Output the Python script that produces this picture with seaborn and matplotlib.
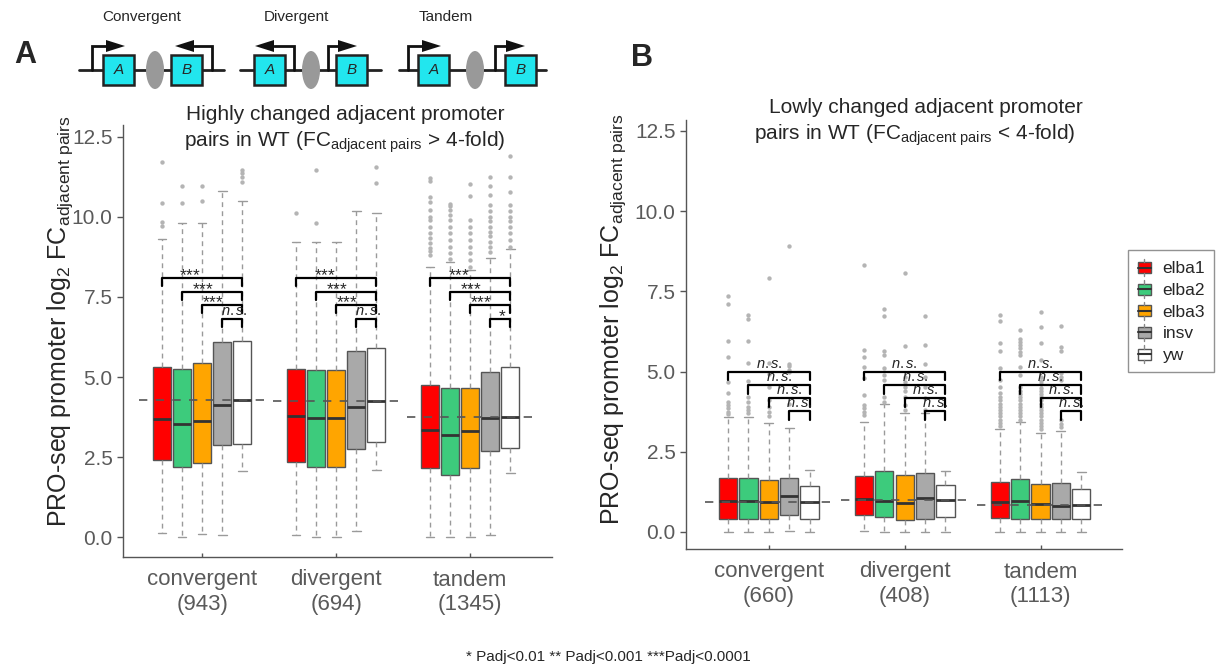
""" PRO-seq promoter fold change box plots, panels A and B. """
import numpy as np
import pandas as pd
import seaborn as sns
import matplotlib.pyplot as plt
from matplotlib.patches import Rectangle, Ellipse, Polygon, Patch
from matplotlib.lines import Line2D
from matplotlib.legend_handler import HandlerBase

sns.set_theme(style="ticks")
plt.rcParams['font.family'] = ['Liberation Sans', 'DejaVu Sans']
plt.rcParams['mathtext.fontset'] = 'custom'
plt.rcParams['mathtext.rm'] = 'Liberation Sans'
plt.rcParams['mathtext.it'] = 'Liberation Sans:italic'

groups = ["convergent", "divergent", "tandem"]
genotypes = ["elba1", "elba2", "elba3", "insv", "yw"]
colors = ["#ff0000", "#3dcb7c", "#ffa500", "#a9a9a9", "#ffffff"]

# panel A: highly changed pairs (rows = groups, columns = genotypes)
A_counts = [943, 694, 1345]
A_med = [[3.68, 3.53, 3.63, 4.13, 4.28], [3.78, 3.73, 3.73, 4.07, 4.26], [3.34, 3.19, 3.30, 3.73, 3.76]]
A_q1 = [[2.41, 2.18, 2.30, 2.87, 2.92], [2.35, 2.20, 2.20, 2.75, 2.98], [2.15, 1.94, 2.17, 2.68, 2.77]]
A_q3 = [[5.30, 5.24, 5.43, 6.10, 6.12], [5.24, 5.22, 5.22, 5.81, 5.91], [4.75, 4.67, 4.67, 5.15, 5.32]]
A_lo = [[0.13, 0.01, 0.11, 0.06, 2.06], [0.06, 0.01, 0.01, 0.20, 2.09], [0.01, 0.01, 0.01, 0.06, 1.99]]
A_hi = [[9.31, 9.80, 9.80, 10.82, 10.50], [9.23, 9.23, 9.23, 10.20, 10.13], [8.44, 8.59, 8.34, 8.72, 9.01]]
A_out = [
    [[9.72, 9.83, 10.43, 11.70], [10.43, 10.97], [10.50, 10.97], [], [11.10, 11.26, 11.36, 11.47]],
    [[10.13], [9.82, 11.45], [], [], [11.05, 11.57]],
    [[8.81, 8.92, 9.03, 9.18, 9.34, 9.49, 9.70, 9.91, 10.01, 10.22, 10.48, 10.63, 11.11, 11.21],
     [8.70, 8.86, 9.07, 9.28, 9.49, 9.70, 9.91, 10.06, 10.22, 10.33, 10.41],
     [8.44, 8.65, 8.86, 9.07, 9.28, 9.49, 9.70, 9.91, 10.66, 11.02],
     [8.91, 9.07, 9.23, 9.39, 9.54, 9.70, 9.86, 10.01, 10.17, 10.38, 10.69, 10.98, 11.26],
     [9.07, 9.28, 9.49, 9.70, 9.86, 10.01, 10.17, 10.38, 10.79, 11.26, 11.90]],
]
A_sig = [["***", "***", "***", "n.s."], ["***", "***", "***", "n.s."], ["***", "***", "***", "*"]]

# panel B: lowly changed pairs
B_counts = [660, 408, 1113]
B_med = [[0.975, 0.975, 0.935, 1.12, 0.92], [1.02, 0.975, 0.89, 1.07, 0.99], [0.935, 0.965, 0.86, 0.82, 0.85]]
B_q1 = [[0.40, 0.42, 0.42, 0.53, 0.42], [0.53, 0.46, 0.38, 0.40, 0.48], [0.425, 0.42, 0.40, 0.39, 0.39]]
B_q3 = [[1.67, 1.68, 1.63, 1.69, 1.44], [1.74, 1.89, 1.77, 1.83, 1.46], [1.56, 1.64, 1.51, 1.52, 1.34]]
B_lo = [[0.0, 0.0, 0.0, 0.04, 0.0], [0.04, 0.0, 0.0, 0.0, 0.0], [0.0, 0.0, 0.0, 0.0, 0.0]]
B_hi = [[3.57, 3.57, 3.41, 3.25, 1.93], [3.44, 3.99, 3.70, 3.70, 1.91], [3.22, 3.44, 3.10, 3.16, 1.87]]
B_out = [
    [[3.68, 3.75, 3.85, 3.95, 4.05, 4.32, 4.68, 5.45, 5.94, 7.11, 7.36],
     [3.70, 3.80, 3.90, 4.06, 4.20, 4.72, 5.27, 5.94, 6.63, 6.75],
     [3.60, 3.75, 3.90, 4.10, 4.53, 4.91, 5.28, 7.93],
     [4.00, 4.99, 5.06, 5.16, 5.24, 8.91], []],
    [[3.65, 3.75, 3.85, 3.95, 4.27, 4.79, 5.15, 5.46, 5.67, 8.32],
     [4.06, 4.22, 4.73, 4.89, 5.12, 5.53, 5.64, 6.74, 6.95],
     [3.80, 3.95, 4.20, 4.38, 4.53, 4.69, 4.84, 5.79, 8.08],
     [3.80, 4.17, 4.53, 4.84, 5.23, 5.83, 6.73], []],
    [[3.30, 3.40, 3.50, 3.60, 3.70, 3.80, 3.90, 4.00, 4.10, 4.20, 4.32, 4.53, 4.73, 5.10, 5.64, 5.88, 6.57, 6.76],
     [3.50, 3.60, 3.70, 3.80, 3.90, 4.00, 4.10, 4.20, 4.30, 4.40, 4.53, 4.89, 5.15, 5.51, 5.61, 5.72, 5.82, 5.93, 6.03, 6.31],
     [3.20, 3.30, 3.40, 3.50, 3.60, 3.70, 3.80, 3.90, 4.00, 4.10, 4.20, 4.30, 4.40, 4.50, 4.60, 4.70, 4.84, 5.36, 5.90, 6.40, 6.86],
     [3.28, 3.38, 3.48, 4.73, 4.84, 4.94, 5.65, 5.75, 6.41], []],
]
B_sig = [["n.s."] * 4, ["n.s."] * 4, ["n.s."] * 4]

offsets = np.array([-0.3, -0.15, 0.0, 0.15, 0.3])
GRAY_TXT = "#5a5a5a"


def sig_math(lab):
    # tight mathtext boxes so stacked labels don't collide; braces stop operator spacing
    if lab == "n.s.":
        return r"$\mathit{n.s.}$"
    return "$" + "".join("{*}" for _ in lab) + "$"


def boxpanel(ax, med, q1, q3, lo, hi, out, counts, sig, sig_y, sig_x):
    for g in range(len(groups)):
        stats = [dict(med=med[g][k], q1=q1[g][k], q3=q3[g][k], whislo=lo[g][k],
                      whishi=hi[g][k], fliers=[]) for k in range(len(genotypes))]
        bp = ax.bxp(stats, positions=g + offsets, widths=0.135, patch_artist=True,
                    showfliers=False, manage_ticks=False, capwidths=0.065,
                    boxprops=dict(edgecolor="#555555", linewidth=1.0),
                    whiskerprops=dict(color="#9a9a9a", linestyle=(0, (3.5, 3)), linewidth=1.0),
                    capprops=dict(color="#9a9a9a", linewidth=1.0),
                    medianprops=dict(color="#333333", linewidth=2.0))
        for patch, c in zip(bp["boxes"], colors):
            patch.set_facecolor(c)
        # dashed line at the yw (control) median
        ax.plot([g - 0.47, g + 0.47], [med[g][4], med[g][4]], color="#555555",
                lw=1.2, ls=(0, (5, 5)), zorder=4)
        # significance brackets, each genotype against yw
        for i in range(4):
            x1, x2, y = g + offsets[i], g + offsets[4], sig_y[i]
            ax.plot([x1, x1, x2, x2], [y - 0.27, y, y, y - 0.27], color="black", lw=1.6, zorder=5)
            lab = sig[g][i]
            tx = g - 0.3 + 0.15 * sig_x[i]
            if lab == "n.s.":
                ax.text(tx, y + 0.03, sig_math(lab), ha="center", va="bottom", fontsize=10.5,
                        color="#222222", zorder=6)
            else:
                ax.text(tx, y - 0.14, sig_math(lab), ha="center", va="bottom", fontsize=12.5, zorder=6)

    rows = [(g + offsets[k], v) for g in range(len(groups))
            for k in range(len(genotypes)) for v in out[g][k]]
    fl = pd.DataFrame(rows, columns=["pos", "value"])
    sns.scatterplot(data=fl, x="pos", y="value", color="#b4b4b4", s=10, linewidth=0,
                    ax=ax, legend=False, zorder=2)

    ax.set_xticks(range(len(groups)))
    ax.set_xticklabels([f"{n}\n({c})" for n, c in zip(groups, counts)])
    ax.set_yticks([0, 2.5, 5, 7.5, 10, 12.5])
    ax.set_yticklabels(["0.0", "2.5", "5.0", "7.5", "10.0", "12.5"])
    ax.set_xlabel("")
    ax.set_ylabel(r"PRO-seq promoter log$_2$ FC$_{\mathrm{adjacent\ pairs}}$", fontsize=18)
    ax.tick_params(axis="y", labelsize=15, labelcolor=GRAY_TXT, color="#555555", length=4, width=1)
    ax.tick_params(axis="x", labelsize=16, labelcolor=GRAY_TXT, color="#555555", length=3,
                   width=1, direction="in", pad=9)
    sns.despine(ax=ax)
    for s in ["left", "bottom"]:
        ax.spines[s].set_color("#555555")
        ax.spines[s].set_linewidth(1.0)


class BoxHandler(HandlerBase):
    def create_artists(self, legend, orig_handle, xdescent, ydescent, width, height, fontsize, trans):
        cx = width / 2 - xdescent
        bw = width * 0.85
        y0 = -ydescent
        bh = height * 0.62
        by = y0 + (height - bh) / 2
        rect = Rectangle((cx - bw / 2, by), bw, bh, facecolor=orig_handle.get_facecolor(),
                         edgecolor="#555555", lw=1, transform=trans)
        mid = Line2D([cx - bw / 2, cx + bw / 2], [by + bh / 2] * 2, color="#333333", lw=1.5, transform=trans)
        top = Line2D([cx, cx], [by + bh, y0 + height], color="#888888", lw=1, transform=trans)
        bot = Line2D([cx, cx], [y0, by], color="#888888", lw=1, transform=trans)
        return [rect, mid, top, bot]


fig = plt.figure(figsize=(12.16, 6.70), dpi=100)
W, H = 1216, 670

axA = fig.add_axes([123 / W, 1 - 557 / H, 429 / W, 432 / H])
boxpanel(axA, A_med, A_q1, A_q3, A_lo, A_hi, A_out, A_counts, A_sig,
         [8.1, 7.67, 7.26, 6.82], [1.42, 2.02, 2.55, 3.58])
axA.set_xlim(-0.59, 2.61)
axA.set_ylim(-0.62, 12.87)
axA.yaxis.set_label_coords(-0.112, 0.545)

axB = fig.add_axes([686 / W, 1 - 549 / H, 436 / W, 429 / H])
boxpanel(axB, B_med, B_q1, B_q3, B_lo, B_hi, B_out, B_counts, B_sig,
         [5.0, 4.58, 4.17, 3.76], [2, 2.5, 3, 3.5])
axB.set_xlim(-0.61, 2.6)
axB.set_ylim(-0.53, 12.84)
axB.yaxis.set_label_coords(-0.132, 0.535)

# titles
fig.text(345 / W, 1 - 120 / H, "Highly changed adjacent promoter", ha="center", va="baseline", fontsize=15)
fig.text(345 / W, 1 - 147 / H, r"pairs in WT (FC$_{\mathrm{adjacent\ pairs}}$ > 4-fold)",
         ha="center", va="baseline", fontsize=15)
fig.text(926 / W, 1 - 113 / H, "Lowly changed adjacent promoter", ha="center", va="baseline", fontsize=15)
fig.text(915 / W, 1 - 140 / H, r"pairs in WT (FC$_{\mathrm{adjacent\ pairs}}$ < 4-fold)",
         ha="center", va="baseline", fontsize=15)
fig.text(25 / W, 1 - 55 / H, "A", ha="center", va="center", fontsize=22, fontweight="bold")
fig.text(642 / W, 1 - 58 / H, "B", ha="center", va="center", fontsize=22, fontweight="bold")
fig.text(0.5, 1 - 657 / H, "* Padj<0.01 ** Padj<0.001 ***Padj<0.0001", ha="center", va="center", fontsize=11)

# legend
handles = [Patch(facecolor=c, edgecolor="#555555") for c in colors]
leg = fig.legend(handles, genotypes, loc="upper left", bbox_to_anchor=(1128 / W, 1 - 250 / H),
                 handler_map={Patch: BoxHandler()}, frameon=True, fancybox=False,
                 edgecolor="#777777", fontsize=12.5, handlelength=0.9, handleheight=1.2,
                 labelspacing=0.22, handletextpad=0.6, borderpad=0.5, borderaxespad=0)
leg.get_frame().set_linewidth(1.0)

# promoter-pair schematics across the top
top = fig.add_axes([0, 0, 1, 1], facecolor="none")
top.set_xlim(0, W)
top.set_ylim(H, 0)
top.axis("off")
LINE_Y, ARROW_Y = 70, 46
schemes = [
    ("Convergent", 142, (79, 224), [103, 171], 155, [(92, 125), (212, 175)]),
    ("Divergent", 296, (240, 381), [254, 336], 311, [(294, 255), (328, 357)]),
    ("Tandem", 446, (399, 546), [418, 505], 475, [(408, 441), (495, 525)]),
]
for name, tx, (l0, l1), bxs, ex, arrows in schemes:
    top.text(tx, 17, name, ha="center", va="center", fontsize=11)
    top.plot([l0, l1], [LINE_Y, LINE_Y], color="#222222", lw=2, zorder=1)
    top.add_patch(Ellipse((ex, LINE_Y), 18, 38, facecolor="#999999", edgecolor="none", zorder=2))
    for bx, letter in zip(bxs, ["A", "B"]):
        top.add_patch(Rectangle((bx, LINE_Y - 15), 31, 30, facecolor="#22e6ee",
                                edgecolor="#222222", lw=1.8, zorder=3))
        top.text(bx + 15.5, LINE_Y, letter, ha="center", va="center", fontsize=11, style="italic", zorder=4)
    for ax0, tip in arrows:
        d = 1 if tip > ax0 else -1
        base = tip - d * 19
        top.plot([ax0, ax0, base], [LINE_Y, ARROW_Y, ARROW_Y], color="#111111", lw=2,
                 solid_joinstyle="miter", zorder=4)
        top.add_patch(Polygon([[base, ARROW_Y - 6], [base, ARROW_Y + 6], [tip, ARROW_Y]],
                              closed=True, facecolor="#111111", edgecolor="none", zorder=4))

fig.savefig("out.png", dpi=100)
